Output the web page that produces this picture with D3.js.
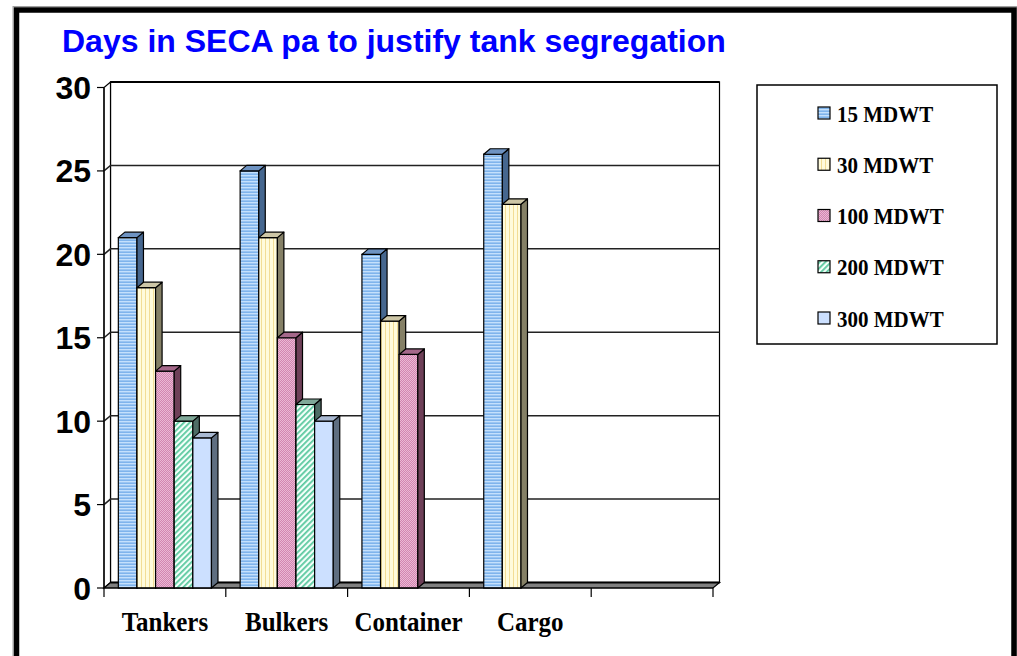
<!DOCTYPE html>
<html>
<head>
<meta charset="utf-8">
<script src="https://cdn.jsdelivr.net/npm/d3@7"></script>
<style>
  html, body { margin: 0; padding: 0; background: #ffffff; }
  svg { display: block; }
</style>
</head>
<body>
<div id="chart"></div>
<script>
// カテゴリ（最後の空欄は右端の空きスロット）
var categories = ['Tankers', 'Bulkers', 'Container', 'Cargo', ''];

// 系列名
var seriesNames = ['15 MDWT', '30 MDWT', '100 MDWT', '200 MDWT', '300 MDWT'];

// 系列ごとの値（カテゴリ順）
var mdwt15 = [21, 25, 20, 26, 0];
var mdwt30 = [18, 21, 16, 23, 0];
var mdwt100 = [13, 15, 14, 0, 0];
var mdwt200 = [10, 11, 0, 0, 0];
var mdwt300 = [9, 10, 0, 0, 0];

// 目盛り
var yTicks = [0, 5, 10, 15, 20, 25, 30];

var titleText = 'Days in SECA pa to justify tank segregation';

(function() {
  var width = 1017;
  var height = 656;

  // 前面の描画領域
  var plot = { left: 104, right: 713, top: 87.5, bottom: 588 };

  // 3Dの奥行き
  var depthX = 6.5;
  var depthY = 5.5;

  var seriesValues = [mdwt15, mdwt30, mdwt100, mdwt200, mdwt300];

  // 系列のスタイル（正面はパターン、上面と側面は単色）
  var styles = [
    { front: 'url(#p15)', top: '#6e93c2', side: '#46678f' },
    { front: 'url(#p30)', top: '#cdc6a6', side: '#858066' },
    { front: 'url(#p100)', top: '#a5688a', side: '#6e4058' },
    { front: 'url(#p200)', top: '#7fa898', side: '#4e6d66' },
    { front: 'url(#p300)', top: '#a9b9d2', side: '#5f6e80' }
  ];

  var x = d3.scaleBand().domain(d3.range(categories.length)).range([plot.left, plot.right]).padding(0);
  var x1 = d3.scaleBand().domain(d3.range(seriesNames.length)).range([0, x.bandwidth()])
    .paddingInner(0).paddingOuter(0.77);
  var y = d3.scaleLinear().domain([0, 30]).range([plot.bottom, plot.top]);

  var svg = d3.select('#chart').append('svg')
    .attr('width', width).attr('height', height);

  // パターン定義
  var defs = svg.append('defs');

  var p15 = defs.append('pattern').attr('id', 'p15').attr('patternUnits', 'userSpaceOnUse')
    .attr('width', 4).attr('height', 3);
  p15.append('rect').attr('width', 4).attr('height', 3).attr('fill', '#7fb4ec');
  p15.append('rect').attr('y', 1).attr('width', 4).attr('height', 1.4).attr('fill', '#c4e0fc');

  var p30 = defs.append('pattern').attr('id', 'p30').attr('patternUnits', 'userSpaceOnUse')
    .attr('width', 4).attr('height', 4);
  p30.append('rect').attr('width', 4).attr('height', 4).attr('fill', '#fffbdc');
  p30.append('rect').attr('x', 1).attr('width', 1).attr('height', 4).attr('fill', '#f2dd95');

  var p100 = defs.append('pattern').attr('id', 'p100').attr('patternUnits', 'userSpaceOnUse')
    .attr('width', 2).attr('height', 2);
  p100.append('rect').attr('width', 2).attr('height', 2).attr('fill', '#d285b0');
  p100.append('rect').attr('width', 1).attr('height', 1).attr('fill', '#eab8d4');
  p100.append('rect').attr('x', 1).attr('y', 1).attr('width', 1).attr('height', 1).attr('fill', '#eab8d4');

  var p200 = defs.append('pattern').attr('id', 'p200').attr('patternUnits', 'userSpaceOnUse')
    .attr('width', 4).attr('height', 4).attr('patternTransform', 'rotate(-45)');
  p200.append('rect').attr('width', 4).attr('height', 4).attr('fill', '#f4fffa');
  p200.append('rect').attr('width', 4).attr('height', 1.8).attr('fill', '#5cc9a0');

  var p300 = defs.append('pattern').attr('id', 'p300').attr('patternUnits', 'userSpaceOnUse')
    .attr('width', 4).attr('height', 4);
  p300.append('rect').attr('width', 4).attr('height', 4).attr('fill', '#cce0ff');

  // 外枠
  svg.append('rect')
    .attr('x', 13).attr('y', 6.5).attr('width', 1004).attr('height', 700)
    .attr('fill', 'none').attr('stroke', '#a0a0a0').attr('stroke-width', 1);
  svg.append('rect')
    .attr('x', 16.5).attr('y', 10).attr('width', 997.5).attr('height', 700)
    .attr('fill', '#ffffff').attr('stroke', '#000000').attr('stroke-width', 5.5);

  // タイトル
  svg.append('text')
    .attr('x', 62).attr('y', 52)
    .attr('font-family', 'Arial, "Liberation Sans", sans-serif')
    .attr('font-weight', 'bold').attr('font-size', 32)
    .attr('fill', '#0000ff')
    .text(titleText);

  var backLeft = plot.left + depthX;
  var backRight = plot.right + depthX;

  // 奥の壁
  svg.append('rect')
    .attr('x', backLeft).attr('y', y(30) - depthY)
    .attr('width', backRight - backLeft).attr('height', plot.bottom - plot.top)
    .attr('fill', '#ffffff').attr('stroke', '#000000').attr('stroke-width', 1.2);
  svg.append('line')
    .attr('x1', backLeft).attr('x2', backRight)
    .attr('y1', y(30) - depthY).attr('y2', y(30) - depthY)
    .attr('stroke', '#000000').attr('stroke-width', 2.2);

  // 左の壁
  svg.append('path')
    .attr('d', 'M' + plot.left + ',' + y(0) + 'L' + plot.left + ',' + y(30) +
      'L' + backLeft + ',' + (y(30) - depthY) + 'L' + backLeft + ',' + (y(0) - depthY) + 'Z')
    .attr('fill', '#ffffff').attr('stroke', '#000000').attr('stroke-width', 1.2);

  // グリッド線（左の壁の斜線＋奥の壁の水平線）
  svg.selectAll('.grid').data(yTicks.filter(function(d) { return d > 0 && d < 30; })).enter()
    .append('path')
    .attr('class', 'grid')
    .attr('d', function(d) {
      return 'M' + plot.left + ',' + y(d) + 'L' + backLeft + ',' + (y(d) - depthY) +
        'L' + backRight + ',' + (y(d) - depthY);
    })
    .attr('fill', 'none').attr('stroke', '#222222').attr('stroke-width', 1.5);

  // 床
  svg.append('path')
    .attr('d', 'M' + plot.left + ',' + y(0) + 'L' + plot.right + ',' + y(0) +
      'L' + backRight + ',' + (y(0) - depthY) + 'L' + backLeft + ',' + (y(0) - depthY) + 'Z')
    .attr('fill', '#808080').attr('stroke', '#000000').attr('stroke-width', 1.2);
  svg.append('line')
    .attr('x1', backLeft).attr('x2', backRight)
    .attr('y1', y(0) - depthY).attr('y2', y(0) - depthY)
    .attr('stroke', '#000000').attr('stroke-width', 2);

  // 棒（左から順に描画して側面を重ねる）
  var bars = [];
  categories.forEach(function(c, ci) {
    seriesNames.forEach(function(s, si) {
      var v = seriesValues[si][ci];
      if (v > 0) {
        bars.push({ ci: ci, si: si, value: v });
      }
    });
  });

  var barLayer = svg.append('g').attr('class', 'bars');
  var barG = barLayer.selectAll('.bar').data(bars).enter()
    .append('g').attr('class', 'bar');

  var bw = x1.bandwidth();

  function x0(d) { return x(d.ci) + x1(d.si); }

  // 正面
  barG.append('rect')
    .attr('x', x0)
    .attr('y', function(d) { return y(d.value); })
    .attr('width', bw)
    .attr('height', function(d) { return y(0) - y(d.value); })
    .attr('fill', function(d) { return styles[d.si].front; })
    .attr('stroke', '#000000').attr('stroke-width', 1.2);

  // 側面
  barG.append('path')
    .attr('d', function(d) {
      var xr = x0(d) + bw;
      var yt = y(d.value);
      return 'M' + xr + ',' + yt + 'L' + (xr + depthX) + ',' + (yt - depthY) +
        'L' + (xr + depthX) + ',' + (y(0) - depthY) + 'L' + xr + ',' + y(0) + 'Z';
    })
    .attr('fill', function(d) { return styles[d.si].side; })
    .attr('stroke', '#000000').attr('stroke-width', 1.2).attr('stroke-linejoin', 'round');

  // 上面
  barG.append('path')
    .attr('d', function(d) {
      var xl = x0(d);
      var yt = y(d.value);
      return 'M' + xl + ',' + yt + 'L' + (xl + depthX) + ',' + (yt - depthY) +
        'L' + (xl + bw + depthX) + ',' + (yt - depthY) + 'L' + (xl + bw) + ',' + yt + 'Z';
    })
    .attr('fill', function(d) { return styles[d.si].top; })
    .attr('stroke', '#000000').attr('stroke-width', 1.2).attr('stroke-linejoin', 'round');

  // Y軸
  var yAxisG = svg.append('g');
  yAxisG.append('line')
    .attr('x1', plot.left).attr('x2', plot.left)
    .attr('y1', y(0)).attr('y2', y(30))
    .attr('stroke', '#000000').attr('stroke-width', 1.2);
  yAxisG.selectAll('.ytick').data(yTicks).enter()
    .append('line')
    .attr('x1', plot.left - 7).attr('x2', plot.left)
    .attr('y1', function(d) { return y(d); }).attr('y2', function(d) { return y(d); })
    .attr('stroke', '#000000').attr('stroke-width', 1.2);
  yAxisG.selectAll('.ylabel').data(yTicks).enter()
    .append('text')
    .attr('x', 91).attr('y', function(d) { return y(d) + 11.5; })
    .attr('text-anchor', 'end')
    .attr('font-family', 'Arial, "Liberation Sans", sans-serif')
    .attr('font-weight', 'bold').attr('font-size', 32)
    .attr('fill', '#000000')
    .text(function(d) { return d; });

  // X軸
  var xAxisG = svg.append('g');
  xAxisG.append('line')
    .attr('x1', plot.left).attr('x2', plot.right)
    .attr('y1', y(0)).attr('y2', y(0))
    .attr('stroke', '#000000').attr('stroke-width', 1.2);
  var xTickPos = d3.range(categories.length + 1).map(function(i) {
    return plot.left + i * x.step();
  });
  xAxisG.selectAll('.xtick').data(xTickPos).enter()
    .append('line')
    .attr('x1', function(d) { return d; }).attr('x2', function(d) { return d; })
    .attr('y1', y(0)).attr('y2', y(0) + 9)
    .attr('stroke', '#000000').attr('stroke-width', 1.2);
  xAxisG.selectAll('.xlabel').data(categories).enter()
    .append('text')
    .attr('transform', function(d, i) {
      return 'translate(' + (x(i) + x.bandwidth() / 2) + ',631) scale(1,1.13)';
    })
    .attr('text-anchor', 'middle')
    .attr('font-family', '"Times New Roman", "Liberation Serif", serif')
    .attr('font-weight', 'bold').attr('font-size', 25)
    .attr('fill', '#000000')
    .text(function(d) { return d; });

  // 凡例
  var legend = svg.append('g');
  legend.append('rect')
    .attr('x', 757).attr('y', 85).attr('width', 240).attr('height', 259)
    .attr('fill', '#ffffff').attr('stroke', '#000000').attr('stroke-width', 1.5);
  var legendY = d3.scaleLinear().domain([0, 4]).range([113, 318]);
  var item = legend.selectAll('.item').data(seriesNames).enter()
    .append('g').attr('class', 'item');
  item.append('rect')
    .attr('x', 818).attr('y', function(d, i) { return legendY(i) - 6; })
    .attr('width', 12).attr('height', 12)
    .attr('fill', function(d, i) { return styles[i].front; })
    .attr('stroke', '#000000').attr('stroke-width', 1.2);
  item.append('text')
    .attr('transform', function(d, i) {
      return 'translate(837,' + (legendY(i) + 8.5) + ') scale(1,1.13)';
    })
    .attr('font-family', '"Times New Roman", "Liberation Serif", serif')
    .attr('font-weight', 'bold').attr('font-size', 21)
    .attr('fill', '#000000')
    .text(function(d) { return d; });
})();
</script>
</body>
</html>
